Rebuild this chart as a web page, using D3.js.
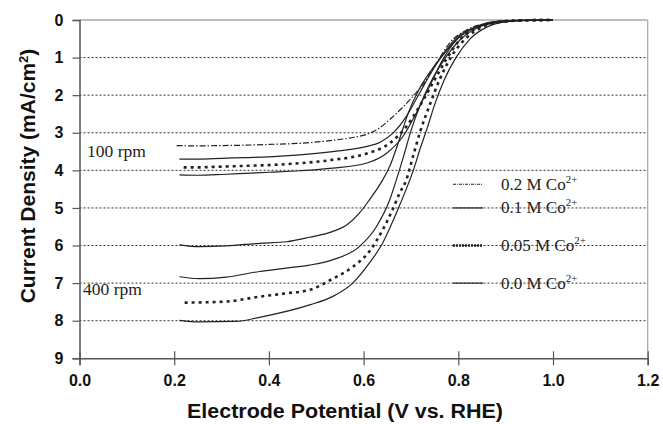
<!DOCTYPE html>
<html><head><meta charset="utf-8">
<script src="https://cdn.jsdelivr.net/npm/d3@7"></script>
<style>body{margin:0;background:#fff}svg{display:block}</style>
</head><body><svg id="c" width="663" height="424"></svg>
<script>
const xTicks = [0.0, 0.2, 0.4, 0.6, 0.8, 1.0, 1.2];
const yTicks = [0, 1, 2, 3, 4, 5, 6, 7, 8, 9];
const legendLabels = ["0.2 M Co", "0.1 M Co", "0.05 M Co", "0.0 M Co"];
const legendSup = "2+";
const rpmLabels = ["100 rpm", "400 rpm"];

// 100 rpm
const r100_02 = [[0.205,3.34],[0.25,3.35],[0.30,3.34],[0.35,3.33],[0.40,3.31],[0.465,3.28],[0.535,3.20],[0.58,3.12],[0.605,3.05],[0.63,2.90],[0.662,2.57],[0.697,2.13],[0.732,1.60],[0.760,1.02],[0.781,0.62],[0.817,0.27],[0.859,0.09],[0.887,0.03],[0.93,0.01],[1.0,0]];
const r100_01 = [[0.211,3.70],[0.25,3.70],[0.30,3.68],[0.35,3.66],[0.40,3.64],[0.465,3.59],[0.535,3.50],[0.605,3.37],[0.635,3.25],[0.662,3.01],[0.690,2.57],[0.718,1.95],[0.746,1.33],[0.774,0.80],[0.803,0.40],[0.838,0.18],[0.887,0.04],[0.95,0.01],[1.0,0]];
const r100_005 = [[0.22,3.92],[0.25,3.92],[0.30,3.90],[0.35,3.88],[0.40,3.86],[0.465,3.81],[0.535,3.72],[0.605,3.56],[0.655,3.28],[0.690,2.84],[0.718,2.30],[0.746,1.68],[0.774,1.06],[0.803,0.53],[0.838,0.22],[0.88,0.06],[0.93,0.01],[1.0,0]];
const r100_00 = [[0.211,4.12],[0.25,4.13],[0.30,4.11],[0.35,4.08],[0.40,4.05],[0.465,4.01],[0.535,3.94],[0.605,3.81],[0.648,3.55],[0.683,3.10],[0.711,2.48],[0.739,1.77],[0.767,1.06],[0.796,0.53],[0.831,0.22],[0.873,0.05],[0.93,0.01],[1.0,0]];
// 400 rpm
const r400_a = [[0.211,5.98],[0.253,6.03],[0.31,6.01],[0.38,5.94],[0.437,5.90],[0.486,5.78],[0.534,5.63],[0.565,5.45],[0.591,5.14],[0.612,4.79],[0.640,4.26],[0.655,3.90],[0.675,3.20],[0.695,2.45],[0.717,1.85],[0.742,1.35],[0.770,0.90],[0.80,0.48],[0.84,0.18],[0.88,0.06],[0.93,0.01],[1.0,0]];
const r400_b = [[0.211,6.83],[0.253,6.88],[0.31,6.84],[0.38,6.69],[0.437,6.60],[0.486,6.52],[0.534,6.38],[0.591,6.03],[0.627,5.50],[0.655,4.79],[0.669,4.26],[0.685,3.60],[0.70,2.95],[0.72,2.25],[0.746,1.55],[0.776,0.95],[0.806,0.50],[0.845,0.18],[0.89,0.05],[0.94,0.01],[1.0,0]];
const r400_c = [[0.222,7.52],[0.31,7.49],[0.38,7.36],[0.437,7.27],[0.486,7.18],[0.534,6.89],[0.577,6.57],[0.612,6.16],[0.640,5.59],[0.661,5.05],[0.676,4.61],[0.690,4.26],[0.705,3.60],[0.72,2.95],[0.74,2.25],[0.76,1.60],[0.785,0.98],[0.815,0.50],[0.85,0.19],[0.89,0.05],[0.94,0.01],[1.0,0]];
const r400_d = [[0.211,7.99],[0.253,8.03],[0.33,8.02],[0.38,7.91],[0.486,7.58],[0.534,7.36],[0.577,7.0],[0.612,6.47],[0.640,5.94],[0.669,5.14],[0.690,4.50],[0.705,4.0],[0.72,3.40],[0.735,2.85],[0.75,2.25],[0.77,1.60],[0.795,1.00],[0.825,0.50],[0.86,0.19],[0.90,0.05],[0.95,0.01],[1.0,0]];

const styles = {
  dashdot: {w:1.2, dash:"6,2,1.5,2"},
  thin: {w:1.2, dash:null},
  dots: {w:2.6, dash:"3,4"},
  solid: {w:1.2, dash:null}
};
const series = [
  {d:r100_02, s:"dashdot"},{d:r100_01, s:"thin"},{d:r100_005, s:"dots"},{d:r100_00, s:"solid"},
  {d:r400_a, s:"solid"},{d:r400_b, s:"solid"},{d:r400_c, s:"dots"},{d:r400_d, s:"solid"}
];
const legendStyles = ["dashdot","thin","dots","solid"];
const legendRows = [4.37, 5, 6, 7];

const svg = d3.select("#c");
const L=79.5, R=647.7, T=20, B=358.3;
const x = d3.scaleLinear().domain([0,1.2]).range([L,R]);
const y = d3.scaleLinear().domain([0,9]).range([T,B]);
const SANS = "Liberation Sans, Arial, sans-serif";
const SERIF = "Liberation Serif, Times New Roman, serif";

// frame top/right
svg.append("line").attr("x1",L).attr("x2",R).attr("y1",T).attr("y2",T).attr("stroke","#aaa").attr("stroke-width",1.3);
svg.append("line").attr("x1",R).attr("x2",R).attr("y1",T).attr("y2",B).attr("stroke","#aaa").attr("stroke-width",1.3);
// gridlines
svg.append("g").selectAll("line").data(yTicks.filter(v=>v>0&&v<9)).join("line")
  .attr("x1",L).attr("x2",R).attr("y1",d=>y(d)).attr("y2",d=>y(d))
  .attr("stroke","#333").attr("stroke-width",1).attr("stroke-dasharray","2,2");

// y axis
const yAx = svg.append("g").attr("transform",`translate(${L},0)`)
  .call(d3.axisLeft(y).tickValues(yTicks).tickSize(7).tickPadding(9).tickFormat(d3.format("d")));
yAx.select(".domain").attr("stroke","#555").attr("stroke-width",1.5);
yAx.selectAll(".tick line").attr("stroke","#555").attr("stroke-width",1.2);
yAx.selectAll("text").attr("font-family",SANS).attr("font-weight","bold").attr("font-size",16).attr("fill","#111");

// x axis
const xAx = svg.append("g").attr("transform",`translate(0,${B})`)
  .call(d3.axisBottom(x).tickValues(xTicks).tickSize(7).tickPadding(9).tickFormat(d3.format(".1f")));
xAx.select(".domain").attr("stroke","#555").attr("stroke-width",1.5);
xAx.selectAll(".tick line").attr("stroke","#555").attr("stroke-width",1.2).attr("y1",-7);
xAx.selectAll("text").attr("font-family",SANS).attr("font-weight","bold").attr("font-size",16).attr("fill","#111");

// curves
const line = d3.line().x(d=>x(d[0])).y(d=>y(d[1])).curve(d3.curveMonotoneX);
series.forEach(s=>{
  const st = styles[s.s];
  svg.append("path").attr("d",line(s.d)).attr("fill","none").attr("stroke","#222")
    .attr("stroke-width",st.w).attr("stroke-dasharray",st.dash);
});

// legend
legendRows.forEach((r,i)=>{
  const st = styles[legendStyles[i]];
  const yy = y(r);
  svg.append("line").attr("x1",453).attr("x2",483).attr("y1",yy).attr("y2",yy)
    .attr("stroke","#222").attr("stroke-width",st.w).attr("stroke-dasharray", legendStyles[i]==="dots"?"2,1":(legendStyles[i]==="dashdot"?"3,1,1,1":null));
  const t = svg.append("text").attr("x",501).attr("y",yy+5.5)
    .attr("font-family",SERIF).attr("font-size",17).attr("fill","#222");
  t.append("tspan").text(legendLabels[i]);
  t.append("tspan").attr("dy",-7).attr("font-size",11).text(legendSup);
});

// rpm labels
svg.append("text").attr("x",87).attr("y",157).text(rpmLabels[0])
  .attr("font-family",SERIF).attr("font-size",17.5).attr("fill","#222");
svg.append("text").attr("x",83).attr("y",295).text(rpmLabels[1])
  .attr("font-family",SERIF).attr("font-size",17.5).attr("fill","#222");

// axis titles
svg.append("text").attr("x",345).attr("y",418).attr("text-anchor","middle")
  .attr("font-family",SANS).attr("font-weight","bold").attr("font-size",20).attr("fill","#111")
  .attr("textLength",316).attr("lengthAdjust","spacingAndGlyphs")
  .text("Electrode Potential (V vs. RHE)");
const yt = svg.append("text").attr("transform","translate(35,176) rotate(-90)").attr("text-anchor","middle")
  .attr("font-family",SANS).attr("font-weight","bold").attr("font-size",21).attr("fill","#111");
yt.append("tspan").text("Current Density (mA/cm");
yt.append("tspan").attr("dy",-7).attr("font-size",13).text("2");
yt.append("tspan").attr("dy",7).text(")");
</script></body></html>
